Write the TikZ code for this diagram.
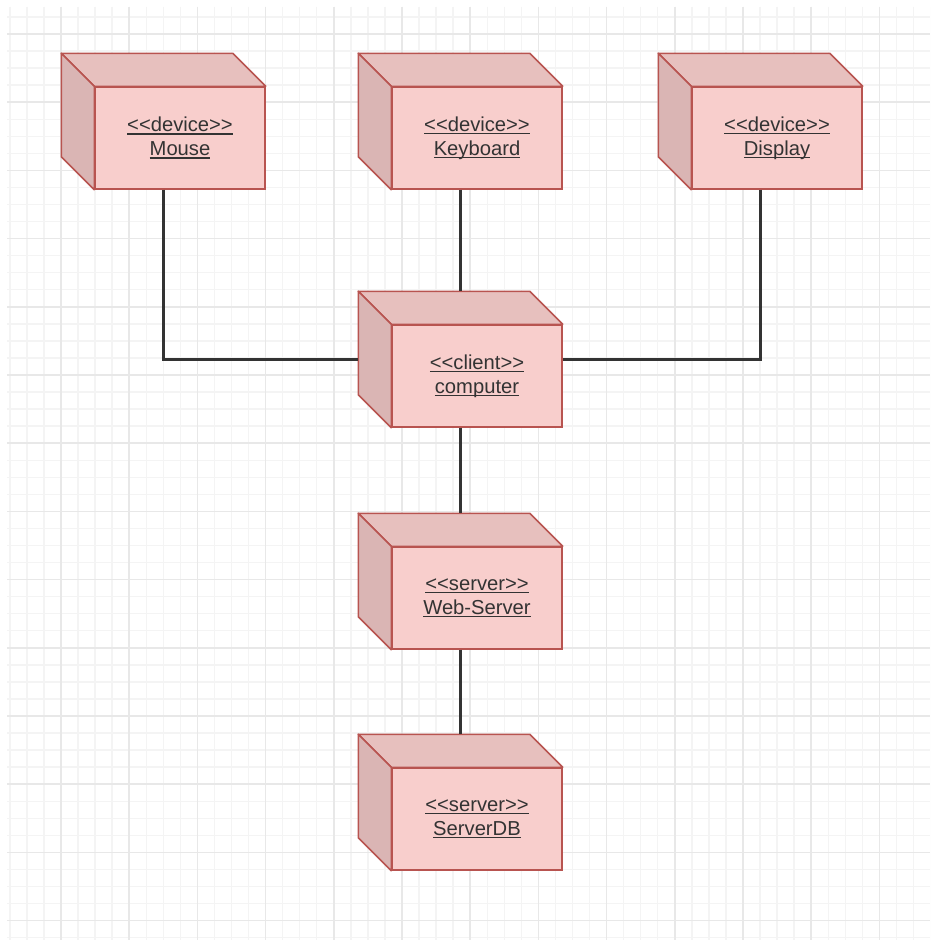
\documentclass[tikz,border=0pt]{standalone}
\usepackage{fontspec}
\setmainfont{Liberation Sans}[Ligatures=TeXOff]
\usepackage{tikz}
\definecolor{nodefill}{HTML}{F8CECC}
\definecolor{nodeline}{HTML}{B85450}
\definecolor{linkgray}{HTML}{333333}
\definecolor{gridminor}{HTML}{F4F4F4}
\definecolor{gridmajor}{HTML}{E8E8E8}
\definecolor{labeltext}{HTML}{333333}

\tikzset{
  front/.style={draw=nodeline, fill=nodefill, line width=0.85pt,
    minimum width=3.4cm, minimum height=2.04cm, inner sep=0pt,
    align=center, text=labeltext,
    font=\fontsize{11.5}{13.7}\selectfont},
  topface/.style={draw=nodeline, fill=nodefill!93!black, line width=0.85pt, line join=round},
  sideface/.style={draw=nodeline, fill=nodefill!88!black, line width=0.85pt, line join=round},
  link/.style={draw=linkgray, line width=1.25pt},
  minorline/.style={draw=gridminor, line width=0.8pt},
  majorline/.style={draw=gridmajor, line width=0.9pt}
}

% underline at a fixed depth
\newcommand{\ulabel}[1]{\setbox0\hbox{#1}\rlap{\rule[-1.7pt]{\wd0}{0.8pt}}\box0}

% node: name, front face centre, stereotype, label
\newcommand{\depnode}[4]{%
  \node[front] (#1) at (#2) {\ulabel{<<#3>>}\\\ulabel{#4}};
  \filldraw[topface] (#1.north west) -- (#1.north east) -- ++(-33,-33)
    -- ([shift={(-33,-33)}]#1.north west) -- cycle;
  \filldraw[sideface] ([shift={(-33,-33)}]#1.north west) -- (#1.north west)
    -- (#1.south west) -- ([shift={(-33,-33)}]#1.south west) -- cycle;
  \coordinate (#1-n) at ([shift={(-16.5,-33)}]#1.north);
  \coordinate (#1-s) at ([shift={(-16.5,0)}]#1.south);
  \coordinate (#1-w) at ([shift={(-33,-16.5)}]#1.west);
  \coordinate (#1-e) at ([shift={(0,-16.5)}]#1.east);
}

\begin{document}
\begin{tikzpicture}[x=0.02cm, y=-0.02cm]
    \useasboundingbox[fill=white] (0,0) rectangle (930,942);

    % background grid
    \begin{scope}
        \clip (7,7) rectangle (930,940);
        \foreach \k in {-3,...,51}
            \draw[minorline] ({61+17.05*\k},7) -- ({61+17.05*\k},940);
        \foreach \k in {-2,...,53}
            \draw[minorline] (7,{34+17.05*\k}) -- (930,{34+17.05*\k});
        \foreach \k in {-1,...,13}
            \draw[majorline] ({61+68.2*\k},7) -- ({61+68.2*\k},940);
        \foreach \k in {-1,...,13}
            \draw[majorline] (7,{34+68.2*\k}) -- (930,{34+68.2*\k});
    \end{scope}

    \depnode{mouse}{180,138}{device}{Mouse}
    \depnode{keyboard}{477,138}{device}{Keyboard}
    \depnode{display}{777,138}{device}{Display}
    \depnode{computer}{477,376}{client}{computer}
    \depnode{webserver}{477,598}{server}{Web-Server}
    \depnode{serverdb}{477,819}{server}{ServerDB}

    \draw[link] (mouse-s) |- (computer-w);
    \draw[link] (keyboard-s) -- (computer-n);
    \draw[link] (display-s) |- (computer-e);
    \draw[link] (computer-s) -- (webserver-n);
    \draw[link] (webserver-s) -- (serverdb-n);
\end{tikzpicture}
\end{document}
